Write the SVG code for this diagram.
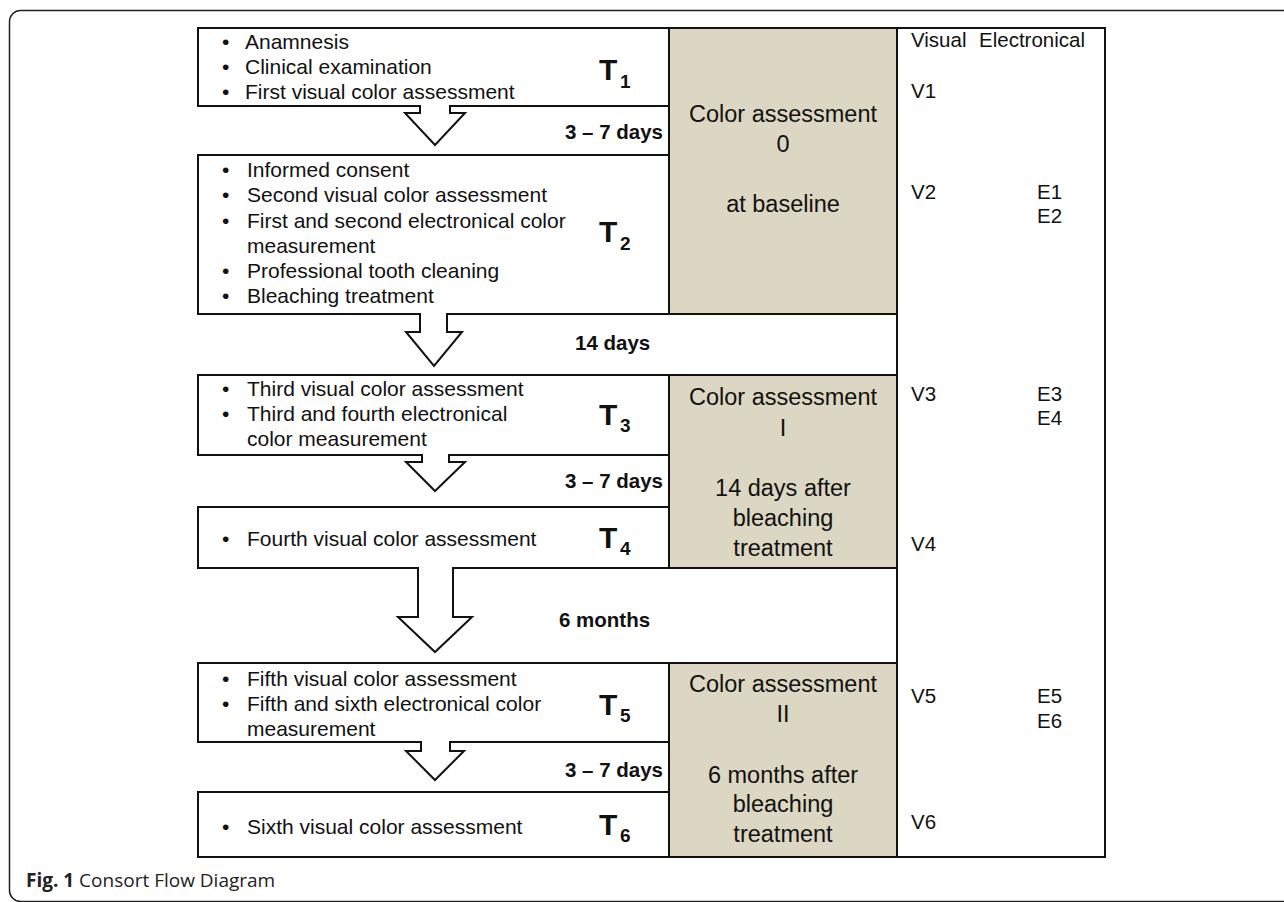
<svg xmlns="http://www.w3.org/2000/svg" width="1284" height="902" viewBox="0 0 1284 902">
<style>
.frame{fill:none;stroke:#222;stroke-width:1.5}
.box{fill:#fff;stroke:#111;stroke-width:2}
.tan{fill:#dcd7c2;stroke:#111;stroke-width:2}
.arr{fill:#fff;stroke:#111;stroke-width:2;stroke-linejoin:miter}
text{font-family:"Liberation Sans",Arial,sans-serif;fill:#111}
.t{font-size:21px}
.b{font-size:20.5px;font-weight:bold}
.big{font-size:23.5px;text-anchor:middle}
.T{font-size:30px;font-weight:bold}
.sub{font-size:19px;font-weight:bold}
.rc{font-size:20.5px}
.cap{font-family:"Open Sans","Noto Sans",sans-serif;font-size:19px;fill:#222}
</style>
<rect class="frame" x="9.5" y="10.5" width="1300" height="891" rx="11"/>

<g id="column-right">
<rect class="box" x="897" y="28" width="208" height="829"/>
<text class="rc" x="911" y="47">Visual</text>
<text class="rc" x="979" y="47">Electronical</text>
<text class="rc" x="911" y="98">V1</text>
<text class="rc" x="911" y="199">V2</text>
<text class="rc" x="1037" y="199">E1</text>
<text class="rc" x="1037" y="223">E2</text>
<text class="rc" x="911" y="401">V3</text>
<text class="rc" x="1037" y="401">E3</text>
<text class="rc" x="1037" y="425">E4</text>
<text class="rc" x="911" y="551">V4</text>
<text class="rc" x="911" y="703">V5</text>
<text class="rc" x="1037" y="703">E5</text>
<text class="rc" x="1037" y="728">E6</text>
<text class="rc" x="911" y="829">V6</text>
</g>

<g id="gap-rows">
<line class="box" x1="669" y1="314" x2="897" y2="314"/>
<line class="box" x1="669" y1="375" x2="897" y2="375"/>
<line class="box" x1="669" y1="568" x2="897" y2="568"/>
<line class="box" x1="669" y1="663" x2="897" y2="663"/>
</g>

<g id="ca0">
<rect class="tan" x="669" y="28" width="228" height="286"/>
<text class="big" x="783" y="121.5">Color assessment</text>
<text class="big" x="783" y="151.5">0</text>
<text class="big" x="783" y="211.5">at baseline</text>
</g>
<g id="ca1">
<rect class="tan" x="669" y="375" width="228" height="193"/>
<text class="big" x="783" y="405">Color assessment</text>
<text class="big" x="783" y="436">I</text>
<text class="big" x="783" y="496">14 days after</text>
<text class="big" x="783" y="526">bleaching</text>
<text class="big" x="783" y="556">treatment</text>
</g>
<g id="ca2">
<rect class="tan" x="669" y="663" width="228" height="194"/>
<text class="big" x="783" y="692">Color assessment</text>
<text class="big" x="783" y="722">II</text>
<text class="big" x="783" y="783">6 months after</text>
<text class="big" x="783" y="812">bleaching</text>
<text class="big" x="783" y="842">treatment</text>
</g>

<g id="T1">
<rect class="box" x="198" y="28" width="471" height="78"/>
<text class="t" x="222" y="49">•</text><text class="t" x="245" y="49">Anamnesis</text>
<text class="t" x="222" y="74">•</text><text class="t" x="245" y="74">Clinical examination</text>
<text class="t" x="222" y="99">•</text><text class="t" x="245" y="99">First visual color assessment</text>
<text class="T" x="599" y="80">T</text><text class="sub" x="620" y="88">1</text>
</g>
<g id="T2">
<rect class="box" x="198" y="155" width="471" height="159"/>
<text class="t" x="222" y="177">•</text><text class="t" x="247" y="177">Informed consent</text>
<text class="t" x="222" y="202">•</text><text class="t" x="247" y="202">Second visual color assessment</text>
<text class="t" x="222" y="228">•</text><text class="t" x="247" y="228">First and second electronical color</text>
<text class="t" x="247" y="253">measurement</text>
<text class="t" x="222" y="278">•</text><text class="t" x="247" y="278">Professional tooth cleaning</text>
<text class="t" x="222" y="303">•</text><text class="t" x="247" y="303">Bleaching treatment</text>
<text class="T" x="599" y="242">T</text><text class="sub" x="620" y="250">2</text>
</g>
<g id="T3">
<rect class="box" x="198" y="375" width="471" height="80"/>
<text class="t" x="222" y="396">•</text><text class="t" x="247" y="396">Third visual color assessment</text>
<text class="t" x="222" y="421">•</text><text class="t" x="247" y="421">Third and fourth electronical</text>
<text class="t" x="247" y="446">color measurement</text>
<text class="T" x="599" y="425">T</text><text class="sub" x="620" y="432">3</text>
</g>
<g id="T4">
<rect class="box" x="198" y="507" width="471" height="61"/>
<text class="t" x="222" y="546">•</text><text class="t" x="247" y="546">Fourth visual color assessment</text>
<text class="T" x="599" y="548">T</text><text class="sub" x="620" y="555">4</text>
</g>
<g id="T5">
<rect class="box" x="198" y="663" width="471" height="79"/>
<text class="t" x="222" y="686">•</text><text class="t" x="247" y="686">Fifth visual color assessment</text>
<text class="t" x="222" y="711">•</text><text class="t" x="247" y="711">Fifth and sixth electronical color</text>
<text class="t" x="247" y="736">measurement</text>
<text class="T" x="599" y="715">T</text><text class="sub" x="620" y="722">5</text>
</g>
<g id="T6">
<rect class="box" x="198" y="792" width="471" height="65"/>
<text class="t" x="222" y="834">•</text><text class="t" x="247" y="834">Sixth visual color assessment</text>
<text class="T" x="599" y="835">T</text><text class="sub" x="620" y="842">6</text>
</g>

<g id="connectors">
<path class="arr" d="M420,105 V113 H405 L435,145 L465,113 H450 V105"/>
<path class="arr" d="M420,313 V332 H406 L434,366 L462,332 H447 V313"/>
<path class="arr" d="M422,454 V462 H406 L435,491 L465,462 H449 V454"/>
<path class="arr" d="M418,567 V617 H398 L435,652 L472,617 H453 V567"/>
<path class="arr" d="M421,741 V751 H406 L435,780 L464,751 H450 V741"/>
<text class="b" x="663" y="139" text-anchor="end">3 – 7 days</text>
<text class="b" x="575" y="350">14 days</text>
<text class="b" x="663" y="488" text-anchor="end">3 – 7 days</text>
<text class="b" x="559" y="627">6 months</text>
<text class="b" x="663" y="777" text-anchor="end">3 – 7 days</text>
</g>

<text class="cap" x="26" y="887"><tspan font-weight="bold">Fig. 1</tspan> Consort Flow Diagram</text>
</svg>
